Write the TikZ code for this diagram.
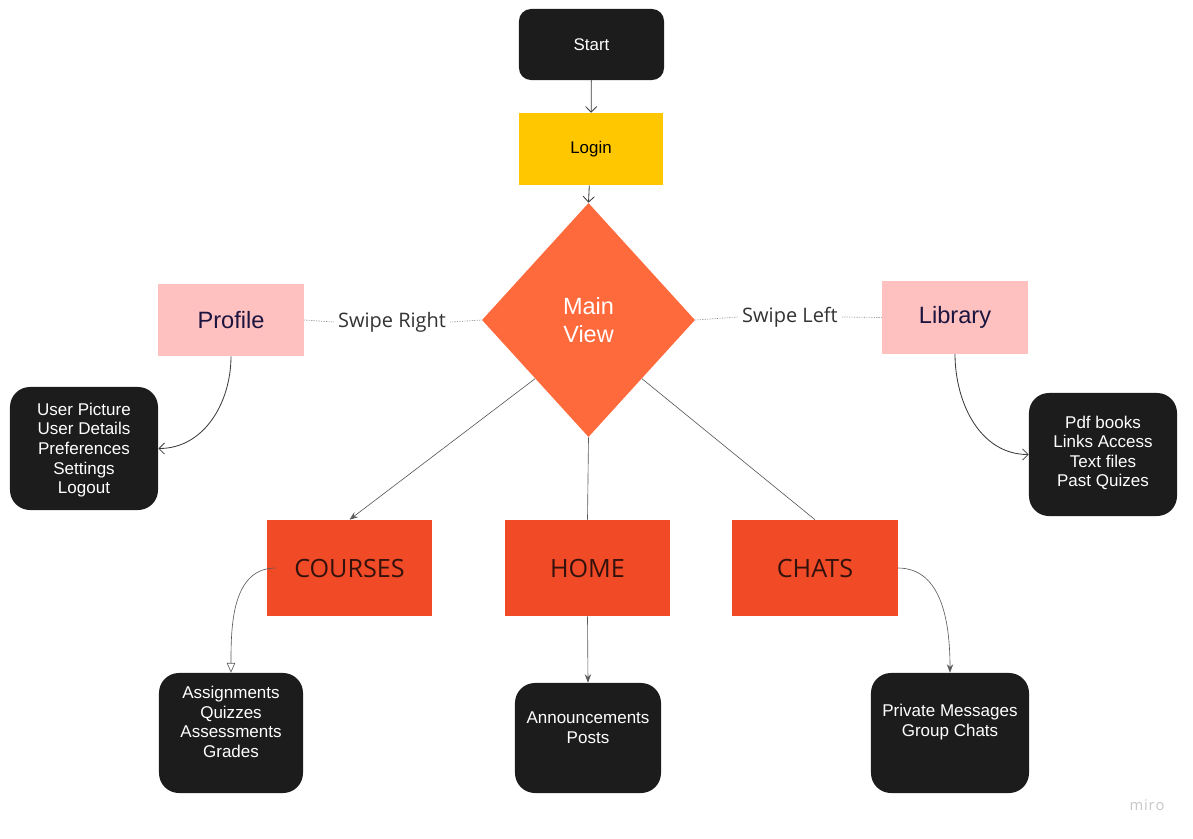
\documentclass[tikz,border=0pt]{standalone}
\usepackage{fontspec}
\setmainfont{Liberation Sans}
\newfontfamily\opensans{Open Sans}
\usepackage{tikz}
\usetikzlibrary{arrows.meta}
\usetikzlibrary{shapes}
\usetikzlibrary{calc}
\usetikzlibrary{positioning}

\definecolor{boxblack}{RGB}{28,28,28}
\definecolor{loginyellow}{RGB}{255,199,0}
\definecolor{mainorange}{RGB}{255,106,61}
\definecolor{catred}{RGB}{241,74,39}
\definecolor{swipepink}{RGB}{255,192,192}
\definecolor{swipeblue}{RGB}{27,20,62}
\definecolor{cattext}{RGB}{52,18,12}
\definecolor{linegrey}{RGB}{60,60,60}

\begin{document}
\begin{tikzpicture}[x=0.025cm, y=0.025cm,
    darkbox/.style={draw=none, fill=boxblack, rounded corners=0.3cm, text=white,
      minimum width=3.625cm, minimum height=1.775cm, font=\fontsize{12}{14}\selectfont},
    listbox/.style={draw=none, fill=boxblack, rounded corners=0.5cm,
      minimum width=3.7cm, minimum height=3.075cm},
    listtext/.style={text=white, align=center, inner sep=0pt,
      font=\fontsize{12.1}{13.9}\selectfont},
    swipebox/.style={fill=swipepink, text=swipeblue, minimum width=3.65cm,
      minimum height=1.8cm, font=\fontsize{16.8}{20}\selectfont},
    catbox/.style={fill=catred, text=cattext, minimum width=4.125cm,
      minimum height=2.4cm, font=\opensans\fontsize{17.9}{21}\selectfont},
    swipelabel/.style={text=black!80, inner sep=3pt,
      font=\opensans\fontsize{14.2}{17}\selectfont},
    swipeline/.style={draw=black!55, line width=0.5pt, dash pattern=on 0.4pt off 0.8pt},
    flow/.style={draw=linegrey, line width=0.6pt,
      -{Straight Barb[length=4pt, width=8pt, line width=0.6pt]}},
    branch/.style={draw=black!65, line width=0.45pt}]

  \useasboundingbox (0,0) rectangle (1193,-838);

  \node[darkbox] (start) at (591.5,-44.5) {Start};
  \node[fill=loginyellow, minimum width=3.6cm, minimum height=1.8cm,
    font=\fontsize{12}{14}\selectfont] (login) at (591,-149) {Login};
  \node[diamond, fill=mainorange, inner sep=0pt, minimum width=5.325cm,
    minimum height=5.85cm, text=white, align=center,
    font=\fontsize{16.7}{20}\selectfont] (main) at (588.5,-320) {Main\\View};

  \node[swipebox] (profile) at (231,-320) {Profile};
  \node[swipebox] (library) at (955,-317.5) {Library};
  \node[swipelabel] (swiperight) at (392,-322) {Swipe Right};
  \node[swipelabel] (swipeleft) at (790,-317) {Swipe Left};

  \foreach \nm/\x/\lab in {courses/349.5/COURSES, home/587.5/HOME, chats/815/CHATS}
    \node[catbox] (\nm) at (\x,-568) {\lab};

  \node[listbox] (userbox) at (84,-448.5) {};
  \node[listtext] at ([yshift=-0.04cm]userbox.center)
    {User Picture\\User Details\\Preferences\\Settings\\Logout};
  \node[listbox] (pdfbox) at (1103,-454.5) {};
  \node[listtext] at ([yshift=0.04cm]pdfbox.center)
    {Pdf books\\Links Access\\Text files\\Past Quizes};
  \node[listbox, minimum width=3.6cm, minimum height=3cm] (assignbox) at (231,-733) {};
  \node[listtext] at ([yshift=0.275cm]assignbox.center)
    {Assignments\\Quizzes\\Assessments\\Grades};
  \node[listbox, minimum width=3.65cm, minimum height=2.75cm] (postbox) at (588,-738) {};
  \node[listtext] at ([yshift=0.26cm]postbox.center) {Announcements\\Posts};
  \node[listbox, minimum width=3.95cm, minimum height=3cm] (chatbox) at (950,-733) {};
  \node[listtext] at ([yshift=0.275cm]chatbox.center) {Private Messages\\Group Chats};

  \draw[flow] (start) -- (login);
  \draw[flow] (login) -- (main.north);

  \draw[swipeline] (profile.east) -- (swiperight.west);
  \draw[swipeline] (swiperight.east) -- (main.west);
  \draw[swipeline] (main.east) -- (swipeleft.west);
  \draw[swipeline] (swipeleft.east) -- (library.west);

  \draw[flow] (profile.south) to[out=-90, in=0] (userbox.east);
  \draw[flow] (library.south) to[out=-90, in=180] (pdfbox.west);

  \draw[branch, -{Stealth[length=6pt, width=4.5pt]}]
    ($(main.west)!0.5!(main.south)$) -- (courses.north);
  \draw[branch] (main.south) -- (home.north);
  \draw[branch] ($(main.east)!0.5!(main.south)$) -- (chats.north);

  \draw[branch, -{Triangle[open, length=7pt, width=6pt, fill=white]}]
    ($(courses.west)+(9,0)$) to[out=180, in=90] (assignbox.north);
  \draw[branch, -{Stealth[length=6pt, width=4.5pt]}] (home.south) -- (postbox.north);
  \draw[branch, -{Stealth[length=6pt, width=4.5pt]}]
    (chats.east) to[out=0, in=90] (chatbox.north);

  \node[text=black!22, font=\opensans\fontsize{10.5}{12}\selectfont] (miro) at (1147,-805)
    {m\kern0.6pt i\kern0.6pt r\kern0.6pt o};
\end{tikzpicture}
\end{document}
